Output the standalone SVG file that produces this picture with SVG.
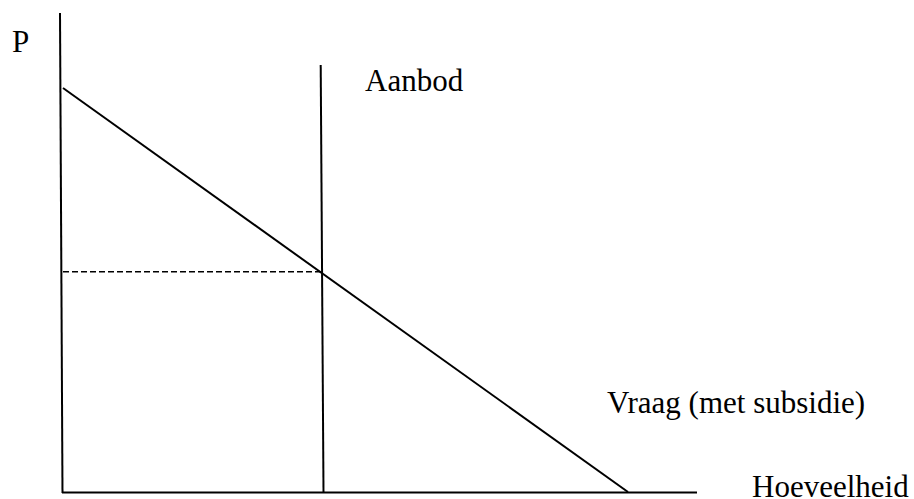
<svg xmlns="http://www.w3.org/2000/svg" width="914" height="499" viewBox="0 0 914 499">
<style>
.ln{stroke:#000;stroke-width:2;fill:none}
.dash{stroke:#000;stroke-width:1.6;fill:none;stroke-dasharray:6,3}
text{font-family:"Liberation Serif","Times New Roman",serif;font-size:31px;fill:#000}
</style>
<rect width="914" height="499" fill="#fff"/>
<g id="axes">
<line class="ln" x1="60" y1="13" x2="62.5" y2="493"/>
<line class="ln" x1="62" y1="492.5" x2="697" y2="492.5"/>
<text x="12" y="52">P</text>
<text x="752" y="496.5">Hoeveelheid</text>
</g>
<g id="aanbod">
<line class="ln" x1="320.7" y1="65" x2="323.5" y2="492"/>
<text x="365" y="91">Aanbod</text>
</g>
<g id="vraag">
<line class="ln" x1="63" y1="88" x2="628" y2="492"/>
<text x="607" y="413">Vraag (met subsidie)</text>
</g>
<g id="connectors">
<line class="dash" x1="63" y1="271.7" x2="322" y2="271.7"/>
</g>
</svg>
